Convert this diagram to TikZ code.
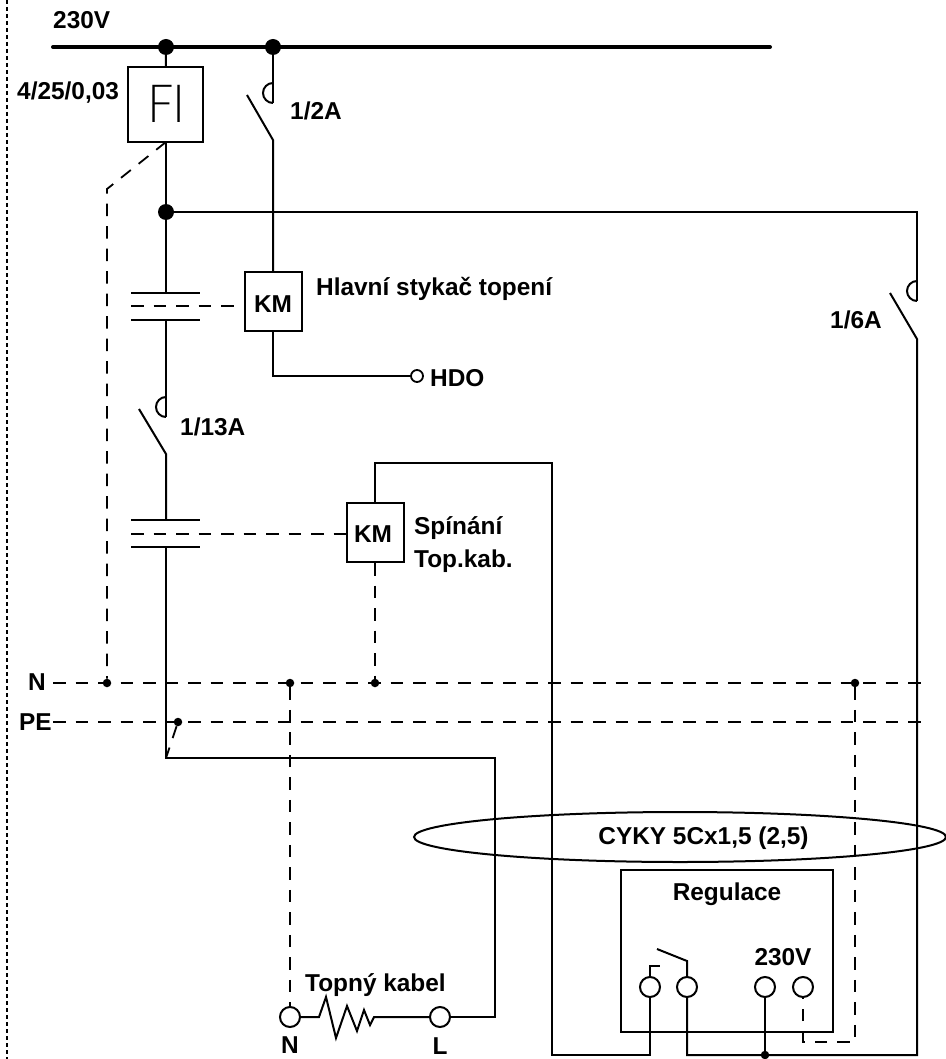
\documentclass[tikz,border=0pt]{standalone}
\usetikzlibrary{shapes.geometric}
\usepackage{fontspec}
\setmainfont{Liberation Sans}
\newfontfamily\thinfi{Poppins ExtraLight}
\begin{document}
\begin{tikzpicture}[x=1pt,y=-1pt,line join=miter,
  wire/.style={line width=2pt},
  bus/.style={line width=4pt,line cap=round},
  dash line/.style={line width=1.8pt,dash pattern=on 12.5pt off 10pt},
  lbl/.style={font=\fontsize{24.4}{26}\selectfont\bfseries,inner sep=0pt,anchor=base west},
  lblc/.style={lbl,anchor=base},
  bigdot/.style={circle,fill=black,draw=none,minimum size=16pt,inner sep=0pt},
  smalldot/.style={circle,fill=black,draw=none,minimum size=8.5pt,inner sep=0pt},
  term/.style={circle,draw=black,fill=white,line width=2pt,minimum size=20pt,inner sep=0pt},
  hdoterm/.style={circle,draw=black,fill=white,line width=1.8pt,minimum size=12pt,inner sep=0pt},
  boxk/.style={rectangle,draw=black,line width=2pt,minimum width=57pt,minimum height=59pt,inner sep=0pt},
]
\useasboundingbox (0,0) rectangle (945,1059);
% left dotted border
\coordinate (bt) at (7,0); \coordinate (bb) at (7,1059);
\draw[line width=2pt,dash pattern=on 4pt off 3pt] (bt) -- (bb);

% coordinates
\coordinate (busL) at (53,47); \coordinate (busR) at (770,47);
\coordinate (br1a) at (273,103); \coordinate (br1b) at (273,140); \coordinate (br1c) at (247,95); \coordinate (br1arc) at (273,83);
\coordinate (br2a) at (166,417); \coordinate (br2b) at (166,454); \coordinate (br2c) at (139,409); \coordinate (br2arc) at (166,397);
\coordinate (br3a) at (917,301); \coordinate (br3b) at (917,339); \coordinate (br3c) at (890,293); \coordinate (br3arc) at (917,281);
\coordinate (c1tl) at (131,293); \coordinate (c1tr) at (200,293); \coordinate (c1t) at (166,293);
\coordinate (c1bl) at (131,320); \coordinate (c1br) at (200,320); \coordinate (c1b) at (166,320);
\coordinate (c1dl) at (131,306);
\coordinate (c2tl) at (131,520); \coordinate (c2tr) at (200,520); \coordinate (c2t) at (166,520);
\coordinate (c2bl) at (131,547); \coordinate (c2br) at (200,547); \coordinate (c2b) at (166,547);
\coordinate (c2dl) at (131,534);
\coordinate (rtc) at (917,212);
\coordinate (hdoc) at (273,376);
\coordinate (fidash) at (107,189);
\coordinate (fibot) at (166,142);
\coordinate (ktop) at (375,463); \coordinate (kr) at (552,463); \coordinate (kb) at (552,1055);
\coordinate (k2) at (650,1055);
\coordinate (lcorner) at (166,758); \coordinate (lr) at (495,758); \coordinate (lb) at (495,1017);
\coordinate (nL) at (53,683); \coordinate (nR) at (925,683);
\coordinate (pL) at (53,722); \coordinate (pR) at (925,722);
\coordinate (bot1) at (687,1055); \coordinate (botR) at (917,1055);
\coordinate (dr1) at (855,1042); \coordinate (dr2) at (803,1042);
\coordinate (s1a) at (650,966); \coordinate (s1b) at (660,966);
\coordinate (s2a) at (687,961); \coordinate (s2b) at (657,949);

% nodes
\node[rectangle,draw=black,line width=2pt,minimum width=75pt,minimum height=75pt,inner sep=0pt] (fi) at (165.5,104.5) {};
\node[inner sep=0pt,font=\thinfi\fontsize{53}{53}\selectfont] (fitext) at (166.5,104) {FI};
\node[bigdot] (d1) at (166,47) {};
\node[bigdot] (d2) at (273,47) {};
\node[bigdot] (d3) at (166,212) {};
\node[boxk] (km1) at (273,301.5) {};
\node[boxk] (km2) at (375,532.5) {};
\node[hdoterm] (hdo) at (417,376) {};
\node[smalldot] (n1) at (107,683) {};
\node[smalldot] (n2) at (290,683) {};
\node[smalldot] (n3) at (375,683) {};
\node[smalldot] (n4) at (855,683) {};
\node[smalldot] (pe1) at (178,722) {};
\node[smalldot] (botd) at (765,1055) {};
\node[rectangle,draw=black,line width=2pt,minimum width=212pt,minimum height=162pt,inner sep=0pt] (reg) at (727,951) {};
\node[ellipse,draw=black,line width=2pt,minimum width=532pt,minimum height=50pt,inner sep=0pt] (cyky) at (680,837) {};
\node[term] (tn) at (290,1017) {};
\node[term] (tl) at (440,1017) {};
\node[term] (r1) at (650,987) {};
\node[term] (r2) at (687,987) {};
\node[term] (r3) at (765,987) {};
\node[term] (r4) at (803,987) {};

% bus
\draw[bus] (busL) -- (busR);
% wires
\draw[wire] (d1) -- (fi);
\draw[wire] (d2) -- (br1a);
\draw[wire] (br1arc) arc[start angle=90,end angle=270,radius=10pt];
\draw[wire] (br1c) -- (br1b) -- (km1);
\draw[wire] (km1) -- (hdoc) -- (hdo);
\draw[wire] (fibot) -- (d3);
\draw[wire] (d3) -- (rtc) -- (br3a);
\draw[wire] (br3arc) arc[start angle=90,end angle=270,radius=10pt];
\draw[wire] (br3c) -- (br3b) -- (botR) -- (bot1) -- (r2);
\draw[wire] (d3) -- (c1t);
\draw[wire] (c1tl) -- (c1tr);
\draw[wire] (c1bl) -- (c1br);
\draw[wire] (c1b) -- (br2a);
\draw[wire] (br2arc) arc[start angle=90,end angle=270,radius=10pt];
\draw[wire] (br2c) -- (br2b) -- (c2t);
\draw[wire] (c2tl) -- (c2tr);
\draw[wire] (c2bl) -- (c2br);
\draw[wire] (c2b) -- (lcorner) -- (lr) -- (lb) -- (tl);
\draw[wire] (km2) -- (ktop) -- (kr) -- (kb) -- (k2) -- (r1);
\draw[wire] (r3) -- (botd);
\draw[wire] (r1) -- (s1a) -- (s1b);
\draw[wire] (r2) -- (s2a) -- (s2b);
\draw[wire] (tn) -- (319,1017) -- (326,997) -- (336,1038) -- (347,1006) -- (357,1031) -- (364,1010) -- (370,1025) -- (374,1017) -- (tl);

% dashed
\draw[dash line] (fibot) -- (fidash) -- (n1);
\draw[dash line] (c1dl) -- (c1dl -| km1.west);
\draw[dash line] (c2dl) -- (c2dl -| km2.west);
\draw[dash line] (km2) -- (n3);
\draw[dash line] (nL) -- (nR);
\draw[dash line] (pL) -- (pR);
\draw[dash line] (pe1) -- (lcorner);
\draw[dash line] (n2) -- (tn);
\draw[dash line] (n4) -- (dr1) -- (dr2) -- (r4);

% labels
\node[lbl] (t1) at (53,29) {230V};
\node[lbl] (t2) at (17,100) {4/25/0,03};
\node[lbl] (t3) at (290,120) {1/2A};
\node[lblc] (t4) at (273,312) {KM};
\node[lbl] (t5) at (316,295) {Hlavní stykač topení};
\node[lbl] (t6) at (830,328) {1/6A};
\node[lbl] (t7) at (430,386) {HDO};
\node[lbl] (t8) at (180,435) {1/13A};
\node[lblc] (t9) at (373,542) {KM};
\node[lbl] (t10) at (414,534) {Spínání};
\node[lbl] (t11) at (414,567) {Top.kab.};
\node[lbl] (t12) at (28,690) {N};
\node[lbl] (t13) at (19,730) {PE};
\node[lblc] (t14) at (703.5,844) {CYKY 5Cx1,5 (2,5)};
\node[lblc] (t15) at (727,900) {Regulace};
\node[lblc] (t16) at (783,965) {230V};
\node[lbl] (t17) at (305,991) {Topný kabel};
\node[lblc] (t18) at (290,1053) {N};
\node[lblc] (t19) at (440,1054) {L};
\end{tikzpicture}
\end{document}
